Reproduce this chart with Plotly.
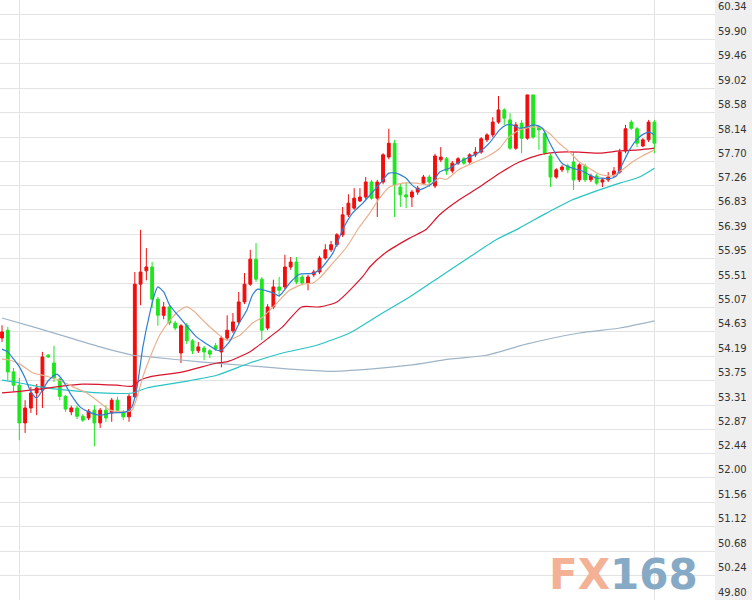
import plotly.graph_objects as go

# ---------------- data ----------------
candle_idx = list(range(114))

opens = [54.52, 54.66, 53.91, 53.67, 52.99, 53.26, 53.53, 53.58, 54.21, 54.07,
         53.78, 53.47, 53.19, 53.26, 53.11, 53.08, 53.22, 52.99, 53.22, 53.17,
         53.40, 53.19, 53.10, 53.46, 55.49, 55.73, 55.80, 55.22, 54.93, 55.08,
         54.79, 54.25, 54.75, 54.47, 54.29, 54.34, 54.29, 54.38, 54.27, 54.52,
         54.65, 54.81, 55.17, 55.49, 55.94, 55.58, 54.70, 55.08, 55.44, 55.44,
         55.80, 55.89, 55.62, 55.51, 55.66, 55.71, 55.96, 56.11, 56.20, 56.38,
         56.74, 56.86, 56.99, 57.06, 57.33, 57.04, 57.33, 57.78, 58.03, 57.24,
         57.10, 57.06, 57.15, 57.31, 57.42, 57.26, 57.73, 57.75, 57.53, 57.67,
         57.75, 57.69, 57.82, 57.87, 58.09, 58.18, 58.41, 58.63, 58.45, 57.94,
         58.39, 58.12, 58.90, 58.32, 58.21, 57.80, 57.42, 57.55, 57.62, 57.69,
         57.37, 57.62, 57.37, 57.44, 57.33, 57.37, 57.46, 57.51, 57.89, 58.41,
         58.29, 57.98, 58.09, 58.41]
highs = [54.75, 54.72, 53.98, 53.80, 53.40, 53.64, 53.69, 54.27, 54.23, 54.38,
         53.80, 53.49, 53.30, 53.30, 53.15, 53.24, 53.31, 53.26, 53.31, 53.44,
         53.46, 53.22, 53.51, 55.71, 56.47, 56.14, 55.89, 55.26, 55.17, 55.12,
         54.83, 54.77, 54.79, 54.50, 54.45, 54.38, 54.32, 54.43, 54.56, 54.93,
         54.97, 55.35, 55.69, 56.11, 56.23, 55.62, 55.13, 55.57, 55.62, 56.02,
         55.98, 55.98, 55.66, 55.66, 55.75, 56.00, 56.21, 56.27, 56.41, 56.88,
         57.11, 57.22, 57.22, 57.42, 57.37, 57.37, 57.85, 58.29, 58.09, 57.31,
         57.33, 57.19, 57.26, 57.46, 57.46, 57.84, 57.96, 57.78, 57.71, 57.78,
         57.78, 57.85, 57.96, 58.14, 58.21, 58.50, 58.88, 58.66, 58.57, 58.41,
         58.45, 58.90, 58.90, 58.36, 58.25, 57.84, 57.58, 57.64, 57.66, 57.87,
         57.67, 57.66, 57.48, 57.48, 57.40, 57.51, 57.60, 57.93, 58.36, 58.45,
         58.32, 58.12, 58.45, 58.45]
lows = [54.45, 53.76, 53.55, 52.68, 52.81, 53.17, 53.13, 53.26, 54.16, 53.73,
        53.40, 53.19, 53.13, 53.06, 53.01, 53.04, 52.57, 52.90, 53.01, 53.01,
        53.19, 53.04, 53.01, 53.44, 55.11, 55.56, 55.06, 54.74, 54.86, 54.75,
        54.66, 54.07, 54.41, 54.23, 54.25, 54.12, 54.16, 54.29, 53.99, 54.48,
        54.61, 54.77, 55.13, 55.46, 55.53, 54.48, 54.66, 55.04, 55.26, 55.40,
        55.75, 55.49, 55.47, 55.38, 55.62, 55.67, 55.93, 56.07, 56.16, 56.34,
        56.70, 56.83, 56.97, 57.02, 57.01, 56.70, 57.29, 57.74, 56.70, 56.88,
        56.86, 56.88, 57.10, 57.28, 57.24, 57.22, 57.69, 57.46, 57.49, 57.64,
        57.64, 57.66, 57.78, 57.84, 58.05, 58.14, 58.38, 58.36, 57.91, 57.91,
        57.85, 58.09, 58.11, 57.91, 57.82, 57.24, 57.39, 57.51, 57.49, 57.19,
        57.33, 57.33, 57.33, 57.28, 57.24, 57.33, 57.42, 57.48, 57.85, 58.27,
        57.96, 57.96, 58.05, 57.85]
closes = [54.63, 53.91, 53.67, 52.99, 53.26, 53.53, 53.62, 54.18, 54.18, 53.80,
          53.47, 53.24, 53.26, 53.11, 53.04, 53.20, 52.99, 53.22, 53.08, 53.40,
          53.22, 53.10, 53.47, 55.49, 55.71, 55.80, 55.22, 54.93, 55.08, 54.79,
          54.70, 54.74, 54.47, 54.29, 54.36, 54.27, 54.23, 54.32, 54.52, 54.66,
          54.81, 55.17, 55.49, 55.94, 55.58, 54.66, 55.08, 55.44, 55.38, 55.80,
          55.89, 55.53, 55.51, 55.62, 55.71, 55.96, 56.11, 56.20, 56.38, 56.74,
          56.95, 57.04, 57.06, 57.33, 57.04, 57.33, 57.82, 58.03, 57.28, 57.10,
          57.06, 57.15, 57.22, 57.42, 57.33, 57.80, 57.78, 57.53, 57.67, 57.75,
          57.67, 57.82, 57.87, 58.11, 58.18, 58.41, 58.63, 58.48, 57.94, 58.36,
          58.12, 58.90, 58.14, 58.27, 57.85, 57.42, 57.55, 57.60, 57.55, 57.37,
          57.64, 57.37, 57.44, 57.31, 57.37, 57.42, 57.53, 57.87, 58.29, 58.30,
          58.03, 58.09, 58.41, 58.03]

# moving-average lines (x = candle position)
ma5_x = [0, 1, 2, 3, 4, 5, 6, 7, 8, 9.5, 10.5, 12, 13.5, 15, 17, 19, 21.5, 22.5, 23.4,
         24.4, 25.6, 26.5, 27, 28, 29, 30.3, 32, 33.7, 35.5, 37.2, 38, 39.5, 41.2, 42.4,
         43.4, 44.3, 45.8, 47, 48, 50, 51.5, 54, 55.5, 57.3, 59, 60.7, 62.5, 64.2, 66,
         67, 68.3, 70, 71, 72.3, 73.5, 74.6, 75.8, 77.5, 79.2, 81, 82.7, 84.4, 86.2,
         87.4, 88.4, 89.6, 90.8, 92.2, 93.6, 94.8, 96, 97, 98.8, 100.5, 101.7, 103,
         104, 105.2, 106.4, 107.4, 108.7, 109.9, 110.9, 112.1, 113]
ma5_y = [54.32, 54.27, 54.14, 54.00, 53.80, 53.55, 53.44, 53.58, 53.75, 53.87, 53.76,
         53.49, 53.28, 53.19, 53.13, 53.17, 53.19, 53.28, 53.64, 54.36, 54.97, 55.33,
         55.44, 55.35, 55.12, 54.95, 54.74, 54.54, 54.41, 54.30, 54.30, 54.47, 54.81,
         55.02, 55.30, 55.40, 55.37, 55.33, 55.28, 55.53, 55.67, 55.69, 55.80, 56.05,
         56.47, 56.77, 56.95, 57.15, 57.37, 57.49, 57.49, 57.40, 57.28, 57.19, 57.24,
         57.31, 57.51, 57.58, 57.69, 57.78, 57.87, 58.03, 58.27, 58.36, 58.36, 58.30,
         58.32, 58.36, 58.30, 58.05, 57.82, 57.67, 57.58, 57.53, 57.46, 57.40, 57.40,
         57.39, 57.44, 57.64, 57.91, 58.09, 58.18, 58.23, 58.18]

ma10_x = [0, 1.4, 3.1, 5.4, 7.4, 10, 12.3, 14.7, 17, 18.7, 20.9, 22.5, 23.4, 24.4,
          25.6, 27.3, 29.1, 30.8, 32, 33.4, 34.8, 37.2, 38.9, 41.2, 43.4, 45.2, 47.6,
          49.8, 52.1, 53.8, 55, 57.3, 59.7, 61.9, 63.7, 65.4, 67.1, 69.4, 71.8, 74,
          75.8, 77, 79.2, 81.5, 83.9, 86.2, 87.6, 89.6, 91.9, 93, 94.8, 96.5, 98.3,
          100, 101.7, 103.5, 105.7, 107.4, 109.2, 110.9, 113]
ma10_y = [54.14, 54.12, 54.05, 53.89, 53.84, 53.76, 53.64, 53.53, 53.35, 53.22, 53.19,
          53.22, 53.46, 53.82, 54.16, 54.57, 54.84, 55.02, 55.08, 54.99, 54.84, 54.61,
          54.48, 54.57, 54.79, 54.90, 55.15, 55.38, 55.49, 55.51, 55.60, 55.87, 56.16,
          56.52, 56.77, 57.04, 57.24, 57.31, 57.31, 57.28, 57.40, 57.38, 57.56, 57.67,
          57.78, 57.94, 58.12, 58.27, 58.32, 58.32, 58.21, 58.03, 57.87, 57.69, 57.58,
          57.47, 57.44, 57.55, 57.69, 57.80, 57.91]

ma20_x = [0, 3.1, 6.6, 10, 14, 19.9, 22.5, 23.9, 25.6, 31.3, 37.2, 38.9, 42.9, 46.4,
          48.6, 51.9, 55, 58, 62.5, 63.7, 66.6, 70.6, 73.5, 75.8, 79.2, 82.7, 86.2,
          89.6, 93.1, 96.5, 100, 103.5, 107, 110.4, 113]
ma20_y = [53.53, 53.56, 53.60, 53.65, 53.69, 53.67, 53.65, 53.76, 53.82, 53.91, 54.07,
          54.09, 54.27, 54.54, 54.72, 55.08, 55.08, 55.17, 55.63, 55.80, 56.07, 56.32,
          56.48, 56.74, 57.01, 57.24, 57.49, 57.69, 57.82, 57.87, 57.87, 57.85, 57.89,
          57.91, 57.94]

ma60_x = [0, 3.1, 6.6, 11.2, 17, 22.5, 25.1, 31.3, 37.2, 42.9, 48.6, 54.5, 60.2, 65.9,
          70.6, 75.8, 81, 85.6, 89.6, 94.3, 98.8, 103.5, 107, 110.4, 113]
ma60_y = [53.76, 53.71, 53.64, 53.58, 53.53, 53.53, 53.62, 53.73, 53.85, 54.07, 54.25,
          54.39, 54.61, 54.97, 55.26, 55.62, 55.98, 56.29, 56.50, 56.77, 57.01, 57.19,
          57.31, 57.42, 57.58]

ma120_x = [0, 5.4, 11.2, 17, 22.7, 25.6, 34.3, 42.9, 49.8, 56.7, 63.7, 70.6, 77.5,
           83.9, 90.8, 100, 107, 113]
ma120_y = [54.88, 54.72, 54.54, 54.36, 54.21, 54.18, 54.09, 54.02, 53.96, 53.92, 53.96,
           54.03, 54.14, 54.21, 54.41, 54.61, 54.70, 54.83]

tick_labels = ["49.80", "50.24", "50.68", "51.12", "51.56", "52.00", "52.44", "52.87",
               "53.31", "53.75", "54.19", "54.63", "55.07", "55.51", "55.95", "56.39",
               "56.83", "57.26", "57.70", "58.14", "58.58", "59.02", "59.46", "59.90",
               "60.34"]
divider_positions = [3, 113]

# ---------------- figure ----------------
fig = go.Figure()
fig.add_trace(go.Candlestick(
    x=candle_idx, open=opens, high=highs, low=lows, close=closes,
    increasing=dict(line=dict(color="#f20d0d", width=1), fillcolor="#f20d0d"),
    decreasing=dict(line=dict(color="#1ee61e", width=1), fillcolor="#1ee61e"),
    whiskerwidth=0, hoverinfo="skip"))

lines = [
    (ma120_x, ma120_y, "#9fb4c6"),
    (ma60_x, ma60_y, "#27c4c4"),
    (ma20_x, ma20_y, "#d9142c"),
    (ma10_x, ma10_y, "#e9b18e"),
    (ma5_x, ma5_y, "#2e7ed6"),
]
for xs, ys, col in lines:
    fig.add_trace(go.Scatter(x=xs, y=ys, mode="lines", hoverinfo="skip",
                             line=dict(color=col, width=1.2, shape="spline", smoothing=0.6)))

fig.add_annotation(
    text='<b><span style="color:#f3b196">FX</span><span style="color:#86aac6">168</span></b>',
    xref="paper", yref="paper", x=0.829, y=0.043, xanchor="center", yanchor="middle",
    showarrow=False, font=dict(family="DejaVu Sans", size=42))

fig.update_layout(
    width=752, height=600, margin=dict(l=0, r=0, t=0, b=0),
    paper_bgcolor="#efefef", plot_bgcolor="#ffffff", showlegend=False,
    hovermode=False,
    xaxis=dict(domain=[0, 715 / 752], range=[-0.35, 123.5], tickvals=divider_positions,
               showticklabels=False, ticks="", showgrid=True, gridcolor="#e3e3e3",
               gridwidth=1, zeroline=False, showline=False,
               rangeslider=dict(visible=False)),
    yaxis=dict(side="right", range=[49.80, 60.61],
               tickvals=[float(t) for t in tick_labels], ticktext=tick_labels,
               showgrid=True, gridcolor="#e3e3e3", gridwidth=1, zeroline=False,
               showline=False, ticks="", ticklabelshift=-8, ticklabelstandoff=2,
               tickfont=dict(family="DejaVu Sans", size=10, color="#333333")),
)

fig.write_html(
    "out.html",
    config={"displayModeBar": False, "staticPlot": True},
    post_script="document.body.style.margin='0px';document.body.style.overflow='hidden';")
